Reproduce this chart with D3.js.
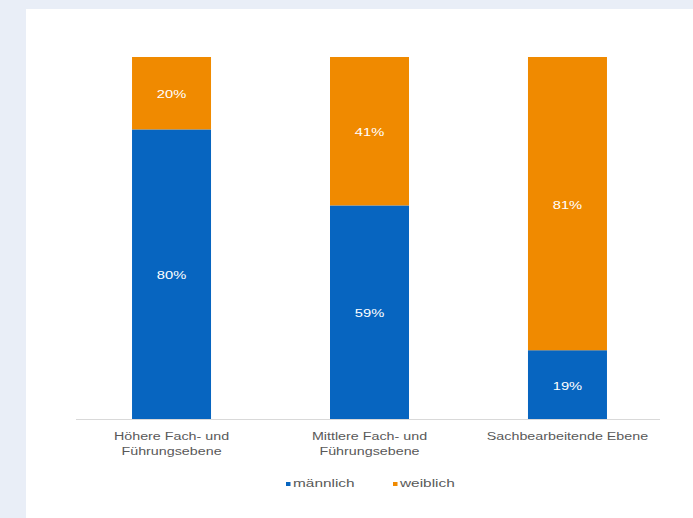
<!DOCTYPE html>
<html><head><meta charset="utf-8">
<script src="https://cdn.jsdelivr.net/npm/d3@7"></script>
<style>
html,body{margin:0;padding:0;background:#e9eef7;}
svg{display:block;font-family:"Liberation Sans",Arial,sans-serif;}
</style></head><body>
<svg id="c" width="693" height="518"></svg>
<script>
const categories = [["Höhere Fach- und","Führungsebene"],["Mittlere Fach- und","Führungsebene"],["Sachbearbeitende Ebene"]];
const maennlich = [80, 59, 19];
const weiblich = [20, 41, 81];
const seriesNames = ["männlich","weiblich"];
const colors = ["#0765c0","#f08a00"];

const svg = d3.select("#c");
svg.append("rect").attr("x",26).attr("y",9).attr("width",667).attr("height",509).attr("fill","#ffffff");

const x = d3.scaleBand().domain(d3.range(categories.length)).range([76,663]).paddingInner(0.601).paddingOuter(0.283);
const y = d3.scaleLinear().domain([0,100]).range([419,57]);

const data = categories.map((c,i)=>({i, m:maennlich[i], w:weiblich[i]}));
const stack = d3.stack().keys(["m","w"])(data);

stack.forEach((layer,k)=>{
  const g = svg.append("g");
  g.selectAll("rect").data(layer).enter().append("rect")
    .attr("x",d=>x(d.data.i)).attr("width",x.bandwidth())
    .attr("y",d=>y(d[1])).attr("height",d=>y(d[0])-y(d[1]))
    .attr("fill",colors[k]);
  g.selectAll("text").data(layer).enter().append("text")
    .attr("transform",d=>`translate(${x(d.data.i)+x.bandwidth()/2},${(y(d[0])+y(d[1]))/2+5}) scale(1.4,1)`)
    .attr("text-anchor","middle").attr("fill","#ffffff")
    .attr("font-size",10.5)
    .text(d=>(d[1]-d[0])+"%");
});

const axis = d3.axisBottom(x).tickSize(0).tickFormat("");
const ax = svg.append("g").attr("transform","translate(0,419.5)").call(axis);
ax.select(".domain").attr("stroke","#d9d9d9").attr("d","M0,0H584").attr("transform","translate(76,0)");

categories.forEach((lines,i)=>{
  lines.forEach((l,j)=>{
    svg.append("text").attr("text-anchor","middle").attr("fill","#595959").attr("font-size",11)
      .attr("transform",`translate(${x(i)+x.bandwidth()/2},${440+j*15}) scale(1.3,1)`).text(l);
  });
});

const legX = [286, 393];
seriesNames.forEach((n,k)=>{
  svg.append("rect").attr("x",legX[k]).attr("y",482).attr("width",4.5).attr("height",4).attr("fill",colors[k]);
  svg.append("text").attr("transform",`translate(${legX[k]+7},487) scale(1.4,1)`)
    .attr("fill","#595959").attr("font-size",11).text(n);
});
</script>
</body></html>
